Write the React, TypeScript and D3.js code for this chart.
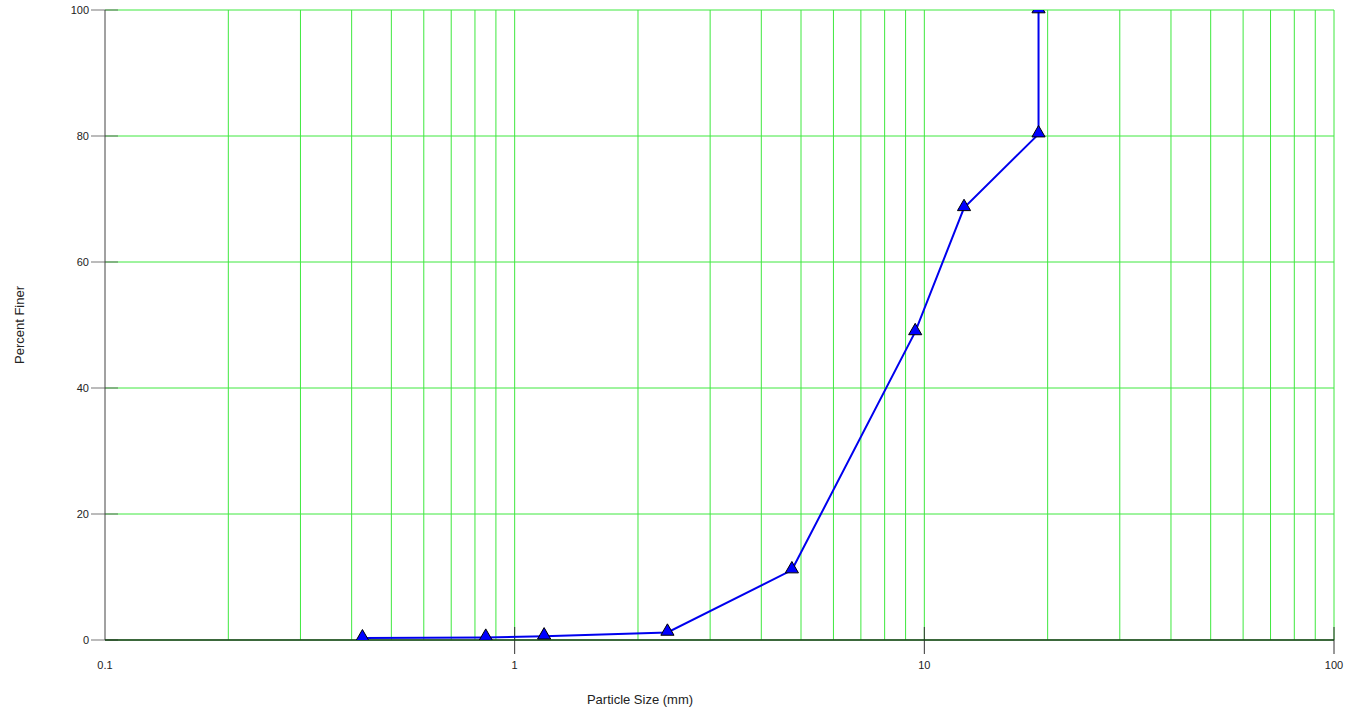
import React from "react";
import * as d3 from "d3";

const sizes = [0.425, 0.85, 1.18, 2.36, 4.75, 9.5, 12.5, 19, 19];
const finer = [0.3, 0.4, 0.6, 1.2, 11.1, 48.9, 68.6, 80.3, 100];
const xTicks = [0.1, 1, 10, 100];
const xTickLabels = ["0.1", "1", "10", "100"];
const yTicks = [0, 20, 40, 60, 80, 100];

const W = 1356, H = 715;
const L = 105, R = 1334, T = 10, B = 640;

export default function App() {
  const x = d3.scaleLog().domain([0.1, 100]).range([L, R]);
  const y = d3.scaleLinear().domain([0, 100]).range([B, T]);
  const minor: number[] = [];
  for (const dec of [0.1, 1, 10]) for (let k = 2; k <= 9; k++) minor.push(+(dec * k).toFixed(3));
  const grid = [...minor, 1, 10, 100];
  const pts = sizes.map((s, i) => [x(s), y(finer[i])] as [number, number]);
  const line = d3.line()(pts) || "";
  const tri = d3.symbol().type(d3.symbolTriangle).size(75)() || "";
  const green = "#3ee83e";
  const font = "Liberation Sans, Arial, sans-serif";
  return (
    <svg width={W} height={H} style={{ position: "absolute", left: 0, top: 0, background: "#fff" }}>
      <defs>
        <clipPath id="plotclip">
          <rect x={L} y={T} width={R - L} height={B - T} />
        </clipPath>
      </defs>
      {grid.map((g) => (
        <line key={"v" + g} x1={x(g)} x2={x(g)} y1={T} y2={B} stroke={green} strokeWidth={1} />
      ))}
      {yTicks.map((t) => (
        <line key={"h" + t} x1={L} x2={R} y1={y(t)} y2={y(t)} stroke={green} strokeWidth={1} />
      ))}
      {yTicks.map((t) => (
        <g key={"yt" + t}>
          <line x1={L - 14} x2={L + 13} y1={y(t)} y2={y(t)} stroke="#555" strokeOpacity={0.8} strokeWidth={1} />
          <text x={L - 16} y={y(t)} dy="0.35em" textAnchor="end" fontFamily={font} fontSize={11} fill="#222">{t}</text>
        </g>
      ))}
      {xTicks.map((t, i) => (
        <g key={"xt" + t}>
          {i > 0 && <line x1={x(t)} x2={x(t)} y1={B - 13} y2={B + 14} stroke="#333" strokeWidth={1} />}
          <text x={x(t)} y={B + 29} textAnchor="middle" fontFamily={font} fontSize={11} fill="#222">{xTickLabels[i]}</text>
        </g>
      ))}
      <line x1={L} x2={L} y1={T} y2={B} stroke="#444" strokeWidth={1} />
      <line x1={L} x2={R} y1={B} y2={B} stroke="#1a3a1a" strokeWidth={1.5} />
      <path d={line} fill="none" stroke="#0000ee" strokeWidth={2} />
      <g clipPath="url(#plotclip)">
        {pts.map((p, i) => (
          <path key={"m" + i} d={tri} transform={`translate(${p[0]},${p[1] - 1})`} fill="#0000ff" stroke="#000" strokeWidth={1} />
        ))}
      </g>
      <text x={19} y={(T + B) / 2} transform={`rotate(-90, 19, ${(T + B) / 2})`} textAnchor="middle" dy="0.35em" fontFamily={font} fontSize={13} fill="#222">Percent Finer</text>
      <text x={640} y={704} textAnchor="middle" fontFamily={font} fontSize={13} fill="#222">Particle Size (mm)</text>
    </svg>
  );
}
